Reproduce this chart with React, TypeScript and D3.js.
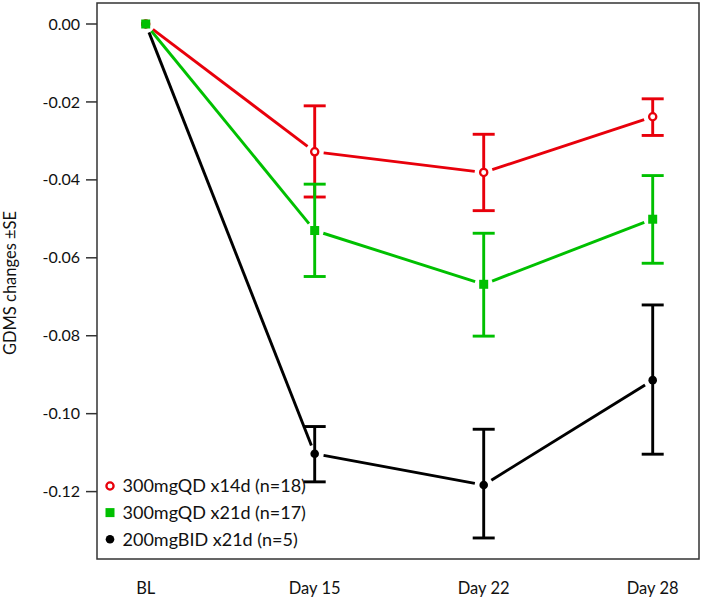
import React from 'react';
import * as d3 from 'd3';

const days = ['BL', 'Day 15', 'Day 22', 'Day 28'];

const qd14Mean = [0, -0.0328, -0.0381, -0.0238];
const qd14Hi = [null, -0.021, -0.0283, -0.0192];
const qd14Lo = [null, -0.0444, -0.0479, -0.0286];

const qd21Mean = [0, -0.053, -0.0668, -0.0501];
const qd21Hi = [null, -0.0411, -0.0537, -0.0389];
const qd21Lo = [null, -0.0648, -0.0801, -0.0614];

const bidMean = [0, -0.1103, -0.1183, -0.0914];
const bidHi = [null, -0.1033, -0.104, -0.0721];
const bidLo = [null, -0.1175, -0.1319, -0.1104];

const yTicks = [0, -0.02, -0.04, -0.06, -0.08, -0.1, -0.12];

const series = [
  { name: '200mgBID x21d (n=5)', color: '#000000', shape: 'dot', mean: bidMean, hi: bidHi, lo: bidLo },
  { name: '300mgQD x14d (n=18)', color: '#e8000b', shape: 'ring', mean: qd14Mean, hi: qd14Hi, lo: qd14Lo },
  { name: '300mgQD x21d (n=17)', color: '#00c000', shape: 'square', mean: qd21Mean, hi: qd21Hi, lo: qd21Lo },
];
const legendOrder = [1, 2, 0];

const font = 'Lato, "Open Sans", sans-serif';

function Marker({ shape, color, x, y }: { shape: string; color: string; x: number; y: number }) {
  if (shape === 'ring') return <circle cx={x} cy={y} r={3.6} fill="#fff" stroke={color} strokeWidth={2.3} />;
  if (shape === 'square') return <rect x={x - 4.5} y={y - 4.5} width={9} height={9} fill={color} />;
  return <circle cx={x} cy={y} r={4.3} fill={color} />;
}

export default function App() {
  const W = 720;
  const H = 602;
  const box = { left: 97, right: 699, top: 3, bottom: 559 };
  const x = d3.scalePoint<string>().domain(days).range([145.7, 652.7]);
  const y = d3.scaleLinear().domain([0, -0.12]).range([24, 491.6]);
  const gap = 9;
  const cap = 11;

  // connecting segments stop short of each marker
  const segments = (vals: number[]) => {
    const out: string[] = [];
    for (let i = 0; i < vals.length - 1; i++) {
      const x0 = x(days[i])!, y0 = y(vals[i]);
      const x1 = x(days[i + 1])!, y1 = y(vals[i + 1]);
      const len = Math.hypot(x1 - x0, y1 - y0);
      const ux = (x1 - x0) / len, uy = (y1 - y0) / len;
      const p = d3.path();
      p.moveTo(x0 + ux * gap, y0 + uy * gap);
      p.lineTo(x1 - ux * gap, y1 - uy * gap);
      out.push(p.toString());
    }
    return out;
  };

  return (
    <svg width={W} height={H} style={{ position: 'absolute', left: 0, top: 0, background: '#fff' }}>
      <rect x={box.left} y={box.top} width={box.right - box.left} height={box.bottom - box.top}
        fill="none" stroke="#333" strokeWidth={1.5} />

      {yTicks.map(t => (
        <g key={t}>
          <line x1={86} x2={box.left} y1={y(t)} y2={y(t)} stroke="#333" strokeWidth={1.5} />
          <text x={80} y={y(t)} dy="0.35em" textAnchor="end" fontFamily={font} fontSize={16} fill="#111">
            {d3.format('.2f')(t).replace('−', '-')}
          </text>
        </g>
      ))}

      {days.map(d => (
        <text key={d} x={x(d)} y={588} dy="0.35em" textAnchor="middle" fontFamily={font} fontSize={16.5} fill="#111">{d}</text>
      ))}

      <text transform="translate(10,283) rotate(-90)" textAnchor="middle" dy="0.35em" fontFamily={font} fontSize={16.5} fill="#111">
        GDMS changes ±SE
      </text>

      {series.map(s => (
        <g key={s.name}>
          {segments(s.mean).map((dd, i) => (
            <path key={i} d={dd} stroke={s.color} strokeWidth={2.9} fill="none" />
          ))}
          {s.mean.map((m, i) => {
            const hi = s.hi[i], lo = s.lo[i];
            if (hi == null || lo == null) return null;
            const cx = x(days[i])!;
            return (
              <g key={i} stroke={s.color} strokeWidth={2.9}>
                <line x1={cx} x2={cx} y1={y(hi)} y2={y(lo)} />
                <line x1={cx - cap} x2={cx + cap} y1={y(hi)} y2={y(hi)} />
                <line x1={cx - cap} x2={cx + cap} y1={y(lo)} y2={y(lo)} />
              </g>
            );
          })}
          {s.mean.map((m, i) => (
            <Marker key={i} shape={s.shape} color={s.color} x={x(days[i])!} y={y(m)} />
          ))}
        </g>
      ))}

      {legendOrder.map((k, i) => {
        const s = series[k];
        const ly = 486 + i * 26.6;
        return (
          <g key={s.name}>
            <Marker shape={s.shape} color={s.color} x={110} y={ly} />
            <text x={122.5} y={ly} dy="0.35em" fontFamily={font} fontSize={18} fill="#111">{s.name}</text>
          </g>
        );
      })}
    </svg>
  );
}
